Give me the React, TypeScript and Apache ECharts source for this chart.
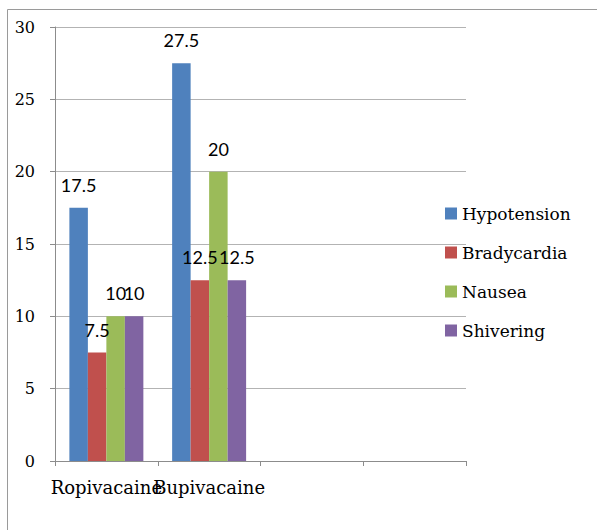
import React, { useEffect, useRef } from "react";
import * as echarts from "echarts";

const categories = ["Ropivacaine", "Bupivacaine", "", ""];
const seriesNames = ["Hypotension", "Bradycardia", "Nausea", "Shivering"];
const hypotension = [17.5, 27.5];
const bradycardia = [7.5, 12.5];
const nausea = [10, 20];
const shivering = [10, 12.5];
const colors = ["#4F81BD", "#C0504D", "#9BBB59", "#8064A2"];
const yTicks = { min: 0, max: 30, interval: 5 };

const SERIF = "DejaVu Serif";

export default function App() {
  const ref = useRef<HTMLDivElement>(null);
  useEffect(() => {
    if (!ref.current) return;
    const chart = echarts.init(ref.current, null, { renderer: "svg" });
    const values = [hypotension, bradycardia, nausea, shivering];
    chart.setOption({
      animation: false,
      backgroundColor: "#ffffff",
      color: colors,
      graphic: [
        {
          type: "rect",
          shape: { x: 7.5, y: 9.5, width: 700, height: 700 },
          style: { fill: "none", stroke: "#9a9a9a", lineWidth: 1 },
          silent: true,
          z: -1,
        },
      ],
      grid: { left: 55, right: 131, top: 27, bottom: 69, containLabel: false },
      legend: {
        orient: "vertical",
        left: 440,
        top: 199,
        itemWidth: 12,
        itemHeight: 12,
        itemGap: 20,
        icon: "rect",
        data: seriesNames,
        textStyle: {
          fontFamily: SERIF,
          fontSize: 17,
          color: "#000",
          lineHeight: 19,
        },
      },
      xAxis: {
        type: "category",
        data: categories,
        boundaryGap: true,
        axisLine: { show: true, lineStyle: { color: "#8c8c8c", width: 1 } },
        axisTick: { show: true, length: 5, lineStyle: { color: "#8c8c8c" } },
        axisLabel: {
          interval: 0,
          margin: 17,
          fontFamily: SERIF,
          fontSize: 18,
          color: "#000",
        },
        splitLine: { show: false },
      },
      yAxis: {
        type: "value",
        min: yTicks.min,
        max: yTicks.max,
        interval: yTicks.interval,
        axisLine: { show: true, lineStyle: { color: "#8c8c8c", width: 1 } },
        axisTick: { show: true, length: 5, lineStyle: { color: "#8c8c8c" } },
        axisLabel: {
          margin: 20,
          fontFamily: SERIF,
          fontSize: 16,
          color: "#000",
        },
        splitLine: { show: true, lineStyle: { color: "#b3b3b3", width: 1 } },
      },
      series: seriesNames.map((name, i) => ({
        name,
        type: "bar",
        data: values[i],
        barGap: "0%",
        barCategoryGap: "28%",
        itemStyle: { color: colors[i] },
        label: {
          show: true,
          position: "top",
          distance: 14,
          fontFamily: "Lato",
          fontSize: 18,
          color: "#000",
        },
      })),
    });
    return () => chart.dispose();
  }, []);
  return (
    <div
      ref={ref}
      style={{ position: "absolute", left: 0, top: 0, width: 597, height: 530 }}
    />
  );
}
